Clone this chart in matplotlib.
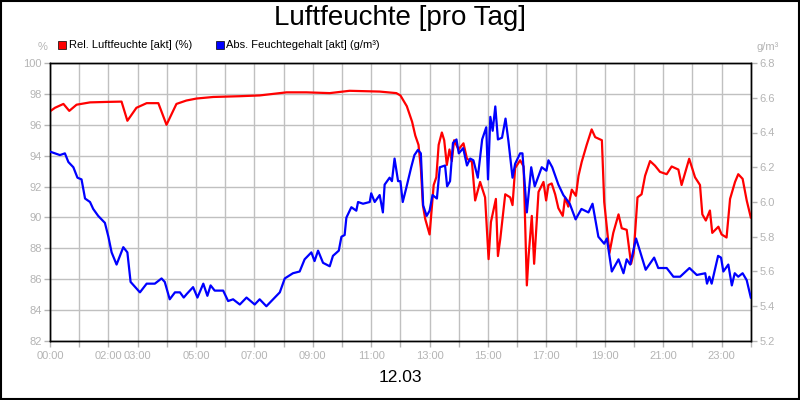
import matplotlib
matplotlib.use("Agg")
import matplotlib.pyplot as plt
from matplotlib.patches import Rectangle

plt.rcParams['font.family'] = ['Liberation Sans', 'DejaVu Sans']

# relative humidity (%), left axis
rel_hours = [0, 0.17, 0.46, 0.66, 0.91, 1.37, 1.94, 2.45, 2.65, 2.96, 3.31, 3.71,
             3.99, 4.33, 4.67, 5.02, 5.59, 6.5, 7.18, 8.1, 8.78, 9.58, 10.26,
             11.29, 11.86, 12.0, 12.22, 12.4, 12.51, 12.62, 12.7, 12.77, 12.85,
             13.0, 13.14, 13.23, 13.31, 13.42, 13.5, 13.59, 13.68, 13.76, 13.84,
             13.99, 14.16, 14.28, 14.45, 14.56, 14.73, 14.9, 15.02, 15.1, 15.27,
             15.34, 15.42, 15.59, 15.76, 15.84, 15.93, 16.1, 16.22, 16.33, 16.39,
             16.5, 16.58, 16.73, 16.9, 16.99, 17.07, 17.18, 17.3, 17.41, 17.56,
             17.64, 17.75, 17.87, 18.01, 18.1, 18.21, 18.38, 18.55, 18.67, 18.9,
             18.98, 19.16, 19.29, 19.47, 19.58, 19.75, 19.9, 19.99, 20.12, 20.26,
             20.38, 20.55, 20.72, 20.89, 21.12, 21.29, 21.52, 21.63, 21.89, 22.09,
             22.26, 22.34, 22.46, 22.6, 22.68, 22.89, 23.0, 23.17, 23.29, 23.46,
             23.57, 23.72, 23.86, 24.0]
rel_values = [96.87, 97.1, 97.35, 96.9, 97.3, 97.45, 97.48, 97.5, 96.26, 97.1, 97.4, 97.4,
              96.0, 97.35, 97.57, 97.7, 97.8, 97.85, 97.9, 98.1, 98.1, 98.05, 98.2,
              98.15, 98.05, 97.9, 97.2, 96.2, 95.3, 94.7, 93.2, 90.8, 89.9,
              88.9, 92.1, 92.6, 94.7, 95.5, 95.0, 93.4, 94.4, 93.65, 95.0,
              94.4, 94.8, 93.8, 93.6, 91.1, 92.3, 91.3, 87.3, 89.7, 91.2,
              87.5, 88.6, 91.5, 91.3, 90.8, 93.2, 93.7, 93.3, 85.6, 87.5,
              90.1, 87.0, 91.65, 92.3, 91.1, 92.1, 92.2, 91.5, 90.6, 90.1,
              91.3, 90.7, 91.8, 91.4, 92.7, 93.6, 94.7, 95.7, 95.2, 95.0,
              91.0, 87.7, 89.0, 90.2, 89.3, 89.2, 87.0, 87.7, 91.3, 91.5,
              92.7, 93.65, 93.35, 92.95, 92.8, 93.3, 93.1, 92.1, 93.8, 92.6,
              92.1, 90.2, 89.8, 90.45, 89.0, 89.4, 88.9, 88.7, 91.2, 92.3,
              92.8, 92.5, 91.1, 90.0]

# absolute moisture content (g/m³), right axis
abs_hours = [0, 0.34, 0.51, 0.63, 0.8, 0.94, 1.08, 1.2, 1.37, 1.48, 1.65, 1.88, 2.0,
             2.11, 2.28, 2.51, 2.65, 2.76, 3.08, 3.31, 3.59, 3.82, 3.93, 4.1, 4.28,
             4.45, 4.58, 4.68, 4.9, 5.05, 5.25, 5.39, 5.5, 5.64, 5.93, 6.1, 6.27,
             6.5, 6.73, 7.01, 7.18, 7.41, 7.64, 7.87, 8.04, 8.32, 8.55, 8.72, 8.95,
             9.06, 9.18, 9.35, 9.58, 9.69, 9.89, 9.98, 10.09, 10.15, 10.32, 10.49,
             10.55, 10.72, 10.95, 11.0, 11.12, 11.29, 11.4, 11.46, 11.63, 11.71,
             11.8, 11.92, 12.0, 12.08, 12.2, 12.37, 12.48, 12.6, 12.7, 12.78, 12.9,
             13.0, 13.1, 13.25, 13.35, 13.53, 13.6, 13.7, 13.8, 13.92, 14.0, 14.15,
             14.28, 14.39, 14.5, 14.65, 14.8, 14.94, 15.0, 15.08, 15.16, 15.25,
             15.34, 15.48, 15.6, 15.7, 15.84, 15.93, 16.1, 16.18, 16.33, 16.48,
             16.6, 16.84, 17.0, 17.07, 17.2, 17.41, 17.58, 17.8, 18.0, 18.2, 18.44,
             18.58, 18.78, 18.98, 19.07, 19.24, 19.47, 19.64, 19.75, 19.87, 20.07,
             20.2, 20.4, 20.69, 20.83, 21.12, 21.35, 21.58, 21.9, 22.15, 22.44,
             22.5, 22.58, 22.66, 22.88, 22.98, 23.06, 23.23, 23.35, 23.45, 23.57,
             23.72, 23.86, 24.0]
abs_values = [6.29, 6.27, 6.28, 6.23, 6.20, 6.14, 6.13, 6.02, 6.00, 5.96, 5.92, 5.88, 5.80,
              5.71, 5.64, 5.74, 5.71, 5.54, 5.48, 5.53, 5.53, 5.56, 5.54, 5.44, 5.48,
              5.48, 5.45, 5.47, 5.51, 5.45, 5.53, 5.46, 5.52, 5.49, 5.49, 5.43, 5.44,
              5.41, 5.45, 5.41, 5.44, 5.40, 5.44, 5.48, 5.56, 5.59, 5.60, 5.67, 5.71,
              5.66, 5.72, 5.65, 5.63, 5.69, 5.72, 5.80, 5.81, 5.91, 5.97, 5.95,
              6.00, 5.99, 6.00, 6.05, 6.00, 6.04, 5.94, 6.10, 6.14, 6.12,
              6.25, 6.12, 6.12, 6.00, 6.08, 6.20, 6.27, 6.30, 6.28, 5.98, 5.92,
              5.95, 6.04, 6.02, 6.20, 6.21, 6.09, 6.12, 6.34, 6.36, 6.28, 6.31,
              6.21, 6.25, 6.24, 6.14, 6.36, 6.43, 6.13, 6.49, 6.41, 6.55,
              6.36, 6.37, 6.48, 6.35, 6.14, 6.22, 6.28, 6.28, 5.94, 6.20,
              6.09, 6.20, 6.18, 6.24, 6.20, 6.10, 6.04, 5.99, 5.90, 5.96, 5.94,
              5.99, 5.80, 5.76, 5.79, 5.60, 5.67, 5.59, 5.67, 5.64, 5.79,
              5.72, 5.61, 5.68, 5.62, 5.62, 5.57, 5.57, 5.62, 5.58, 5.59,
              5.53, 5.57, 5.53, 5.69, 5.68, 5.60, 5.64, 5.52, 5.59, 5.57,
              5.59, 5.55, 5.45]

tick_hours = [0, 2, 3, 5, 7, 9, 11, 13, 15, 17, 19, 21, 23]
tick_labels = ["00:00", "02:00", "03:00", "05:00", "07:00", "09:00", "11:00",
               "13:00", "15:00", "17:00", "19:00", "21:00", "23:00"]

gray = "#b4b4b4"

fig = plt.figure(figsize=(8, 4), dpi=100)
ax = fig.add_axes([0.0625, 0.1475, 0.876, 0.695])
ax2 = ax.twinx()

ax.plot(rel_hours, rel_values, color="#ff0000", lw=1.6, zorder=3)
ax2.plot(abs_hours, abs_values, color="#0000ff", lw=1.6, zorder=3)

ax.set_xlim(0, 24)
ax.set_ylim(82, 100)
ax2.set_ylim(5.2, 6.8)
ax.set_yticks(range(82, 101, 2))
ax2.set_yticks([5.2 + 0.2 * i for i in range(9)])
ax2.set_yticklabels(["%.1f" % (5.2 + 0.2 * i) for i in range(9)])
ax.set_xticks(range(25))
ax.set_xticklabels([tick_labels[tick_hours.index(h)] if h in tick_hours else ""
                    for h in range(25)])

ax.grid(True, color="#c0c0c0", lw=1)
ax.set_axisbelow(True)
for a in (ax, ax2):
    a.tick_params(colors=gray, labelsize=8, length=4, width=1, pad=2)
    for s in a.spines.values():
        s.set_color("black")
        s.set_linewidth(1)
ax.tick_params(axis="x", pad=3)

fig.text(0.5, 0.955, "Luftfeuchte [pro Tag]", ha="center", va="center", fontsize=20)
fig.text(0.5, 0.055, "12.03", ha="center", va="center", fontsize=12.5)
fig.text(0.053, 0.882, "%", ha="center", va="center", fontsize=8, color=gray)
fig.text(0.96, 0.882, "g/m³", ha="center", va="center", fontsize=8, color=gray)

# legend
fig.patches.append(Rectangle((0.0725, 0.878), 0.01, 0.02, transform=fig.transFigure,
                             facecolor="#ff0000", edgecolor="black", lw=0.5))
fig.text(0.086, 0.888, "Rel. Luftfeuchte [akt] (%)", va="center", fontsize=8)
fig.patches.append(Rectangle((0.2695, 0.878), 0.01, 0.02, transform=fig.transFigure,
                             facecolor="#0000ff", edgecolor="black", lw=0.5))
fig.text(0.283, 0.888, "Abs. Feuchtegehalt [akt] (g/m³)", va="center", fontsize=8)

# outer frame
fig.patches.append(Rectangle((0.0008, 0.0015), 0.9984, 0.997, transform=fig.transFigure,
                             fill=False, edgecolor="black", lw=1.5))

fig.savefig("out.png", dpi=100, facecolor="white")
